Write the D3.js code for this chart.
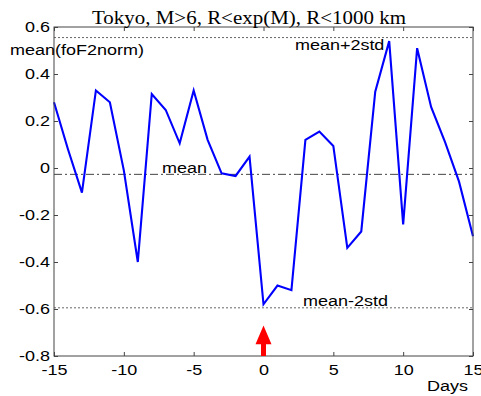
<!DOCTYPE html>
<html>
<head>
<meta charset="utf-8">
<title>Tokyo foF2norm</title>
<script src="https://d3js.org/d3.v7.min.js"></script>
<style>
body { margin: 0; background: #fff; }
svg { display: block; }
text { fill: #000; }
</style>
</head>
<body>
<svg id="chart"></svg>
<script>
// days relative to the event
var days = [-15, -14, -13, -12, -11, -10, -9, -8, -7, -6, -5, -4, -3, -2, -1, 0,
            1, 2, 3, 4, 5, 6, 7, 8, 9, 10, 11, 12, 13, 14, 15];
// mean(foF2norm) per day
var values = [0.28, 0.08, -0.105, 0.33, 0.28, -0.01, -0.40, 0.315, 0.247, 0.105, 0.33,
              0.12, -0.023, -0.034, 0.048, -0.58, -0.50, -0.52, 0.12, 0.155, 0.094,
              -0.34, -0.27, 0.325, 0.54, -0.24, 0.51, 0.26, 0.11, -0.058, -0.29];

var xTicks = [-15, -10, -5, 0, 5, 10, 15];
var yTicks = [0.6, 0.4, 0.2, 0, -0.2, -0.4, -0.6, -0.8];

var meanLevel = -0.027;
var upperLevel = 0.555;   // mean+2std
var lowerLevel = -0.595;  // mean-2std

// text labels placed in data units
var refLabels = [
  {text: "mean+2std", day: 2.25, value: 0.502},
  {text: "mean", day: -7.27, value: -0.021},
  {text: "mean-2std", day: 2.83, value: -0.587}
];

// event arrow, in data units
var eventDay = 0, arrowTip = -0.67, arrowNeck = -0.75;

var W = 481, H = 396;
var margin = {top: 27, right: 8, bottom: 40, left: 54};
var sx = 1.2; // glyphs in the picture are a bit wide
var sans = "Arial, 'Liberation Sans', sans-serif";

var svg = d3.select("#chart").attr("width", W).attr("height", H);

var x = d3.scaleLinear().domain([-15, 15]).range([margin.left, W - margin.right]);
var y = d3.scaleLinear().domain([-0.8, 0.6]).range([H - margin.bottom, margin.top]);

var axisColor = "#444";

// reference lines
svg.append("line")
    .attr("x1", x(-15)).attr("x2", x(15))
    .attr("y1", y(upperLevel)).attr("y2", y(upperLevel))
    .attr("stroke", "#666").attr("stroke-width", 1).attr("stroke-dasharray", "2,2");
svg.append("line")
    .attr("x1", x(-15)).attr("x2", x(15))
    .attr("y1", y(lowerLevel)).attr("y2", y(lowerLevel))
    .attr("stroke", "#666").attr("stroke-width", 1).attr("stroke-dasharray", "2,2");
svg.append("line")
    .attr("x1", x(-15)).attr("x2", x(15))
    .attr("y1", y(meanLevel)).attr("y2", y(meanLevel))
    .attr("stroke", "#444").attr("stroke-width", 1).attr("stroke-dasharray", "8,3,2,3");

// data line
var line = d3.line()
    .x(function(d, i) { return x(days[i]); })
    .y(function(d) { return y(d); });

svg.append("path")
    .datum(values)
    .attr("fill", "none")
    .attr("stroke", "#0000ff")
    .attr("stroke-width", 2.1)
    .attr("stroke-linejoin", "miter")
    .attr("d", line);

// axes, ticks inward on all four sides
var gB = svg.append("g").attr("transform", "translate(0," + y(-0.8) + ")")
    .call(d3.axisBottom(x).tickValues(xTicks).tickSizeInner(-4).tickSizeOuter(0).tickPadding(8)
      .tickFormat(function(d) { return d; }));
var gT = svg.append("g").attr("transform", "translate(0," + y(0.6) + ")")
    .call(d3.axisTop(x).tickValues(xTicks).tickSizeInner(-4).tickSizeOuter(0).tickFormat(""));
var gL = svg.append("g").attr("transform", "translate(" + x(-15) + ",0)")
    .call(d3.axisLeft(y).tickValues(yTicks).tickSizeInner(-4).tickSizeOuter(0).tickPadding(8)
      .tickFormat(function(d) { return d; }));
var gR = svg.append("g").attr("transform", "translate(" + x(15) + ",0)")
    .call(d3.axisRight(y).tickValues(yTicks).tickSizeInner(-4).tickSizeOuter(0).tickFormat(""));

[gB, gT, gL, gR].forEach(function(g) {
  g.select(".domain").remove();
  g.selectAll(".tick line").attr("stroke", axisColor);
});

gB.selectAll(".tick text")
    .style("font-size", "15px").style("font-family", sans)
    .attr("fill", "#000").attr("dy", "0.71em")
    .attr("transform", "scale(" + sx + ",1)");
gL.selectAll(".tick text")
    .style("font-size", "15px").style("font-family", sans)
    .attr("fill", "#000")
    .attr("x", -4 / sx)
    .attr("transform", "scale(" + sx + ",1)");

// box
svg.append("rect")
    .attr("x", x(-15)).attr("y", y(0.6))
    .attr("width", x(15) - x(-15)).attr("height", y(-0.8) - y(0.6))
    .attr("fill", "none").attr("stroke", axisColor).attr("stroke-width", 1);

// arrow
var ax = x(eventDay);
svg.append("path")
    .attr("fill", "#ff0000")
    .attr("d", "M" + ax + "," + y(arrowTip) +
      "L" + (ax + 8) + "," + y(arrowNeck) +
      "L" + (ax + 2.5) + "," + y(arrowNeck) +
      "L" + (ax + 2.5) + "," + y(-0.8) +
      "L" + (ax - 2.5) + "," + y(-0.8) +
      "L" + (ax - 2.5) + "," + y(arrowNeck) +
      "L" + (ax - 8) + "," + y(arrowNeck) + "Z");

function label(px, py, str, size, anchor) {
  return svg.append("text")
      .attr("transform", "translate(" + px + "," + py + ") scale(" + sx + ",1)")
      .attr("text-anchor", anchor || "start")
      .style("font-size", size + "px")
      .style("font-family", sans)
      .text(str);
}

refLabels.forEach(function(d) {
  label(x(d.day), y(d.value), d.text, 15);
});

label(10, 55, "mean(foF2norm)", 15);
label(427, 391, "Days", 15);

svg.append("text")
    .attr("x", 92).attr("y", 24)
    .style("font-family", "'Times New Roman', 'Liberation Serif', serif")
    .style("font-size", "19px")
    .attr("textLength", 314)
    .attr("lengthAdjust", "spacingAndGlyphs")
    .text("Tokyo, M>6, R<exp(M), R<1000 km");
</script>
</body>
</html>
